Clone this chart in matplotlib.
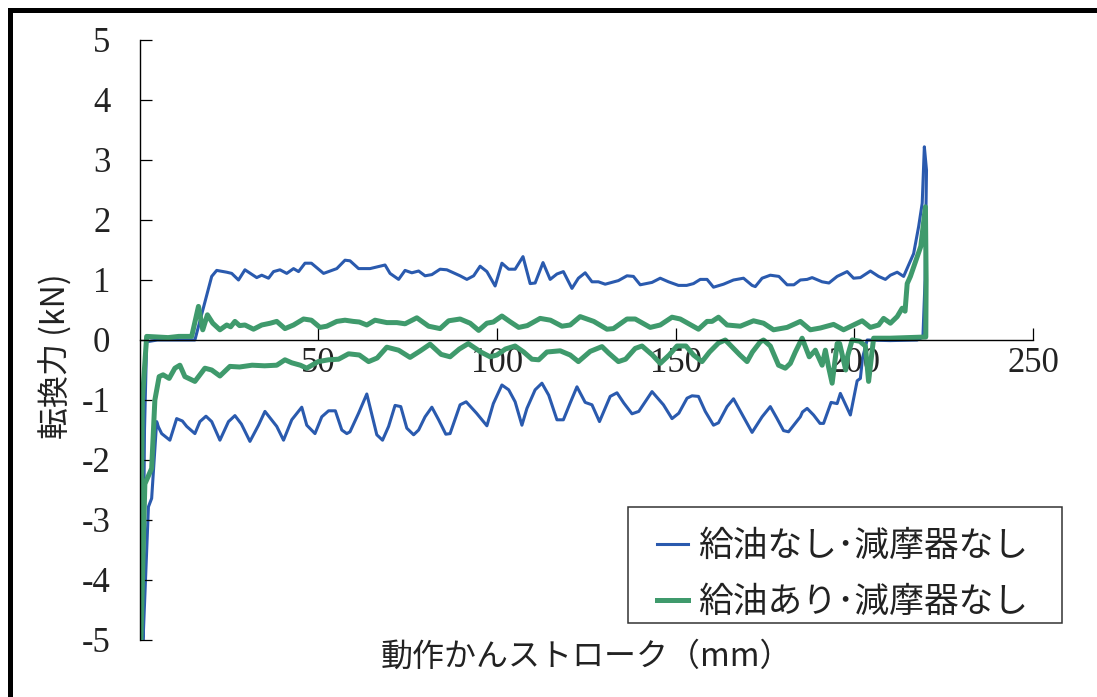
import matplotlib
matplotlib.use('Agg')
import matplotlib.pyplot as plt
from matplotlib.lines import Line2D
from matplotlib.patches import Rectangle

# 給油なし・減摩器なし (forward stroke then return stroke)
blue_fwd_x = [0.9, 1.4, 2.0, 5, 10, 15.5, 20.2, 21.6, 24.4, 25.8, 27.7, 29.5, 32.8, 34.2, 36.1, 37.5, 39.3, 41.2,
              43.1, 44.5, 46.3, 48.1, 51.5, 55.2, 57.5, 58.9, 61.3, 64.5, 68.7, 70.1, 72.5, 74.3, 76.2, 78.1, 79.9,
              81.8, 84.1, 86.0, 89.7, 91.6, 93.5, 95.3, 97.2, 99.5, 101.4, 103.3, 105.1, 107.3, 109.3, 110.7, 112.9,
              114.9, 116.8, 118.6, 121.0, 122.8, 124.7, 126.6, 128.4, 130.3, 134.0, 136.4, 138.2, 140.1, 143.4,
              145.7, 148.0, 150.8, 153.1, 155.0, 156.9, 158.8, 160.6, 163.4, 166.2, 169.0, 171.4, 172.3, 174.2,
              176.5, 178.9, 181.2, 183.1, 184.9, 186.8, 188.2, 191.0, 192.9, 195.2, 198.0, 199.8, 201.7, 204.5,
              206.8, 208.7, 210.1, 212.0, 213.8, 215.2, 216.6, 218.0, 219.0, 219.6, 220.2]
blue_fwd_y = [-5.0, -1.5, -0.03, 0.0, 0.0, 0.0, 1.06, 1.16, 1.13, 1.11, 1.0, 1.17, 1.04, 1.08, 1.03, 1.14, 1.17, 1.11,
              1.19, 1.14, 1.28, 1.28, 1.11, 1.19, 1.33, 1.32, 1.19, 1.19, 1.25, 1.11, 1.01, 1.16, 1.12, 1.15, 1.07,
              1.09, 1.18, 1.17, 1.07, 1.01, 1.07, 1.23, 1.14, 0.9, 1.28, 1.18, 1.18, 1.39, 0.94, 0.95, 1.29,
              1.01, 1.1, 1.14, 0.86, 1.03, 1.12, 0.97, 0.97, 0.93, 0.99, 1.07, 1.06, 0.92, 0.96,
              1.03, 0.97, 0.91, 0.91, 0.94, 1.01, 1.01, 0.88, 0.93, 1.0, 1.03, 0.91, 0.89, 1.03,
              1.08, 1.06, 0.92, 0.92, 1.0, 1.01, 1.04, 0.97, 0.95, 1.06, 1.14, 1.03, 1.04, 1.15,
              1.06, 1.01, 1.08, 1.13, 1.06, 1.25, 1.44, 1.89, 2.28, 3.22, 2.83]
blue_ret_x = [219.8, 219.2, 217.6, 210, 203.6, 202.3, 201.7, 200.8, 198.9, 196.1, 195.2, 193.5, 191.4, 190.4, 188.6,
              186.8, 185.5, 184.9, 181.6, 180.2, 178.3, 176.5, 174.2, 171.4, 169.0, 166.2, 164.4, 162.0, 160.6,
              158.3, 156.4, 154.6, 153.2, 150.9, 149.0, 146.6, 143.4, 139.7, 137.8, 135.5, 133.6, 131.7, 128.7,
              126.6, 124.7, 122.4, 120.5, 118.6, 116.8, 114.5, 112.6, 110.7, 108.4, 107.0, 105.1, 103.3, 101.4,
              99.0, 97.2, 94.3, 91.4, 89.7, 86.9, 85.7, 83.7, 81.8, 79.9, 78.1, 76.7, 74.8, 73.1, 71.5, 69.7,
              68.0, 66.4, 65.5, 63.6, 61.3, 58.9, 58.0, 56.6, 54.8, 52.9, 51.0, 49.1, 46.8, 45.4, 42.6, 40.3,
              38.4, 35.1, 33.3, 30.9, 28.5, 26.7, 24.9, 22.5, 20.2, 18.6, 16.9, 15.5, 13.2, 12.0, 10.4, 8.5,
              6.2, 5.3, 4.8, 3.4, 2.5, 1.0]
blue_ret_y = [1.0, 0.05, 0.0, -0.01, 0.0, -0.3, -0.64, -0.68, -1.25, -0.89, -1.06, -1.04, -1.39, -1.39, -1.25,
              -1.14, -1.2, -1.28, -1.53, -1.51, -1.3, -1.11, -1.28, -1.54, -1.28, -0.98, -1.11, -1.38, -1.42,
              -1.19, -0.94, -0.93, -0.97, -1.22, -1.31, -1.08, -0.86, -1.19, -1.23, -1.05, -0.88, -0.94, -1.36,
              -1.08, -1.04, -0.78, -1.05, -1.33, -1.33, -0.92, -0.72, -0.83, -1.14, -1.42, -1.03, -0.83, -0.75,
              -1.06, -1.43, -1.22, -1.03, -1.08, -1.56, -1.57, -1.33, -1.12, -1.28, -1.5, -1.58, -1.47, -1.11,
              -1.09, -1.44, -1.67, -1.58, -1.36, -0.9, -1.22, -1.53, -1.56, -1.5, -1.18, -1.18, -1.28, -1.56,
              -1.42, -1.12, -1.33, -1.67, -1.44, -1.19, -1.42, -1.69, -1.4, -1.26, -1.36, -1.67, -1.36, -1.27,
              -1.36, -1.56, -1.44, -1.35, -1.31, -1.67, -1.56, -1.45, -1.36, -2.64, -2.78, -5.0]

# 給油あり・減摩器なし
green_fwd_x = [0.2, 0.8, 2.0, 5, 8, 11, 14.6, 16.5, 17.7, 19.0, 20.5, 22.5, 24.4, 25.5, 26.7, 28, 29.5, 31.9, 34.2,
               36.6, 38.4, 40.7, 43.1, 45.9, 48.1, 50.5, 52.4, 55.2, 57.5, 59.8, 61.5, 63.6, 65.9, 69.2, 72.0,
               74.3, 77.6, 80.9, 84.1, 86.5, 89.7, 92.5, 94.9, 97.2, 99.0, 101.4, 103.8, 106.1, 108.5, 112.1,
               115.0, 118.2, 120.5, 123.3, 127.1, 130.8, 132.6, 136.4, 138.7, 142.9, 145.7, 149.0, 151.3, 156.4,
               158.8, 160.2, 162.0, 164.4, 168.1, 171.8, 174.6, 177.4, 181.2, 184.9, 187.7, 190.5, 194.2, 197.0,
               199.8, 202.2, 204.5, 206.8, 208.2, 210.1, 212.0, 213.4, 214.2, 214.8, 215.7, 217.6, 218.6, 219.9]
green_fwd_y = [-5.0, -1.0, 0.06, 0.05, 0.04, 0.06, 0.06, 0.56, 0.17, 0.42, 0.28, 0.17, 0.25, 0.22, 0.31, 0.24, 0.25,
               0.18, 0.25, 0.28, 0.31, 0.19, 0.25, 0.35, 0.33, 0.21, 0.23, 0.31, 0.33, 0.31, 0.3, 0.25, 0.33, 0.29,
               0.29, 0.27, 0.37, 0.23, 0.19, 0.32, 0.35, 0.28, 0.16, 0.28, 0.3, 0.4, 0.3, 0.21, 0.24, 0.36,
               0.33, 0.23, 0.25, 0.39, 0.31, 0.18, 0.19, 0.35, 0.35, 0.21, 0.25, 0.38, 0.35, 0.18,
               0.31, 0.31, 0.38, 0.25, 0.23, 0.32, 0.28, 0.17, 0.21, 0.31, 0.17, 0.2, 0.26, 0.17,
               0.25, 0.32, 0.21, 0.25, 0.36, 0.28, 0.39, 0.53, 0.48, 0.94, 1.06, 1.39, 1.56, 2.22]
green_ret_x = [220.1, 220.0, 215, 210, 205.4, 204.0, 203.1, 201.5, 199.4, 198.2, 197.6, 195.9, 195.2, 193.8, 192.8,
               191.9, 191.0, 189.1, 187.4, 185.4, 183.5, 182.1, 180.7, 178.8, 176.5, 174.6, 173.7, 171.5, 170.0,
               168.0, 163.9, 162.0, 159.5, 157.4, 155.0, 152.9, 150.4, 148.2, 145.7, 143.5, 140.6, 138.7, 136.0,
               134.0, 131.3, 129.4, 126.1, 122.8, 120.5, 117.7, 114.0, 111.7, 109.8, 107.5, 105.1, 102.4, 100.0,
               98.1, 95.5, 92.0, 89.5, 86.9, 84.4, 81.3, 78.6, 75.7, 72.5, 69.2, 66.5, 64.1, 61.5, 58.5, 55.7,
               52.9, 50.0, 46.8, 45.0, 42.6, 40.7, 38.4, 35.0, 31.5, 28.0, 25.3, 22.5, 20.2, 18.3, 15.5, 12.7,
               11.3, 9.9, 8.3, 6.6, 5.5, 4.3, 3.4, 1.5, 0.4]
green_ret_y = [1.0, 0.05, 0.04, 0.03, 0.03, -0.69, -0.1, -0.02, 0.0, -0.25, -0.5, -0.06, -0.06, -0.72, -0.45,
               -0.17, -0.42, -0.17, -0.28, 0.03, -0.2, -0.39, -0.47, -0.42, -0.1, 0.0, -0.03, -0.2, -0.36,
               -0.25, 0.0, -0.05, -0.2, -0.36, -0.25, -0.1, -0.1, -0.25, -0.39, -0.25, -0.1, -0.14, -0.32,
               -0.36, -0.22, -0.11, -0.19, -0.36, -0.25, -0.18, -0.2, -0.33, -0.32, -0.2, -0.1, -0.15, -0.25,
               -0.28, -0.2, -0.06, -0.15, -0.28, -0.24, -0.07, -0.18, -0.29, -0.17, -0.12, -0.3, -0.36, -0.25,
               -0.23, -0.32, -0.33, -0.36, -0.47, -0.42, -0.38, -0.33, -0.42, -0.43, -0.42, -0.45, -0.44, -0.6,
               -0.5, -0.47, -0.69, -0.61, -0.42, -0.47, -0.64, -0.58, -0.61, -1.0, -2.14, -2.4, -5.0]

labels = ['給油なし･減摩器なし', '給油あり･減摩器なし']
x_ticks = [50, 100, 150, 200, 250]
y_ticks = [-5, -4, -3, -2, -1, 0, 1, 2, 3, 4, 5]

jp = 'Noto Sans CJK JP'
serif = 'Liberation Serif'
txt = '#222222'

W, H = 1097, 697
fig = plt.figure(figsize=(W / 100, H / 100), dpi=100)
ax = fig.add_axes([139.5 / W, 1 - 640 / H, (1033 - 139.5) / W, 600 / H])

# lines sit under the axis/tick labels, green over blue
ax.plot(blue_fwd_x + blue_ret_x, blue_fwd_y + blue_ret_y, color='#2a5aae', lw=2.2,
        solid_joinstyle='round', label=labels[0], zorder=1.5)
ax.plot(green_fwd_x + green_ret_x, green_fwd_y + green_ret_y, color='#3f9a6c', lw=3.6,
        solid_joinstyle='round', label=labels[1], zorder=1.6)

ax.set_xlim(0, 250)
ax.set_ylim(-5, 5)
ax.spines['top'].set_visible(False)
ax.spines['right'].set_visible(False)
ax.spines['bottom'].set_position(('data', 0))
for s in ['left', 'bottom']:
    ax.spines[s].set_linewidth(1.0)
ax.set_xticks(x_ticks)
ax.set_yticks(y_ticks)
ax.set_yticklabels([str(v) for v in y_ticks], fontfamily=serif, fontsize=25, color=txt)
ax.set_xticklabels([str(v) for v in x_ticks], fontfamily=serif, fontsize=25, color=txt)
ax.tick_params(axis='y', direction='in', length=8.5, width=0.9, pad=21)
ax.tick_params(axis='x', direction='in', length=8.5, width=0.9, pad=5)

fig.text(56 / W, 1 - 356 / H, '転換力 (kN)', rotation=90, ha='center', va='center',
         fontsize=23, fontfamily=jp, color=txt)
fig.text(586 / W, 1 - 657 / H, '動作かんストローク（mm）', ha='center', va='center',
         fontsize=23, fontfamily=jp, color=txt)

# legend contents; frame drawn separately
leg = ax.legend(loc='upper left', bbox_to_anchor=(657 / W, 1 - 529 / H),
                bbox_transform=fig.transFigure, borderaxespad=0, borderpad=0,
                prop={'family': jp, 'size': 25}, handlelength=0.9, handletextpad=0.29,
                labelspacing=0.6, frameon=False)
for t in leg.get_texts():
    t.set_color(txt)
fig.add_artist(Rectangle((628 / W, 1 - 623 / H), (1062 - 628) / W, (623 - 507) / H,
                         transform=fig.transFigure, fill=False, edgecolor='#333333', lw=1.1))

# outer frame of the figure (left and top)
fig.add_artist(Line2D([9.5 / W, 9.5 / W], [0, 1 - 9.5 / H], color='black', lw=3.6,
                      transform=fig.transFigure, solid_capstyle='projecting'))
fig.add_artist(Line2D([9.5 / W, 1.0], [1 - 9.5 / H, 1 - 9.5 / H], color='black', lw=3.6,
                      transform=fig.transFigure, solid_capstyle='projecting'))

fig.savefig('out.png', dpi=100)
